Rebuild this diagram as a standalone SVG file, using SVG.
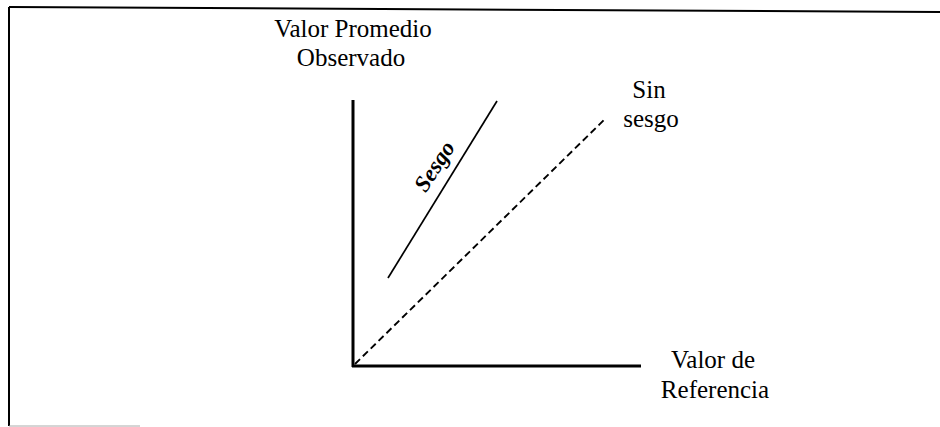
<svg xmlns="http://www.w3.org/2000/svg" width="940" height="427" viewBox="0 0 940 427">
<style>
text{font-family:'Liberation Serif','Times New Roman',Times,serif}
.t{font-size:25px;fill:#000;text-anchor:middle}
.axis{stroke:#000;stroke-width:3;fill:none}
</style>
<rect width="940" height="427" fill="#fff"/>
<g id="frame">
<line x1="9" y1="7" x2="940" y2="12" stroke="#000" stroke-width="2"/>
<line x1="9" y1="7" x2="9" y2="426" stroke="#000" stroke-width="2"/>
<line x1="9" y1="426" x2="140" y2="426" stroke="#aaa" stroke-width="1"/>
</g>
<g id="connectors">
<line class="axis" x1="353" y1="100" x2="353" y2="367"/>
<line class="axis" x1="352" y1="366" x2="641" y2="366"/>
<line x1="388" y1="278" x2="497" y2="101" stroke="#000" stroke-width="1.7"/>
<line x1="355" y1="364" x2="606" y2="118" stroke="#000" stroke-width="1.9" stroke-dasharray="7,4"/>
</g>
<g id="y-label">
<text class="t" x="353" y="37">Valor Promedio</text>
<text class="t" x="351" y="66">Observado</text>
</g>
<g id="sesgo-label">
<text x="434" y="174" transform="rotate(-57 434 166)" font-size="23" font-weight="bold" font-style="italic" text-anchor="middle">Sesgo</text>
</g>
<g id="sin-sesgo-label">
<text class="t" x="649" y="98">Sin</text>
<text class="t" x="651" y="127">sesgo</text>
</g>
<g id="x-label">
<text class="t" x="713" y="368">Valor de</text>
<text class="t" x="715" y="398">Referencia</text>
</g>
</svg>
